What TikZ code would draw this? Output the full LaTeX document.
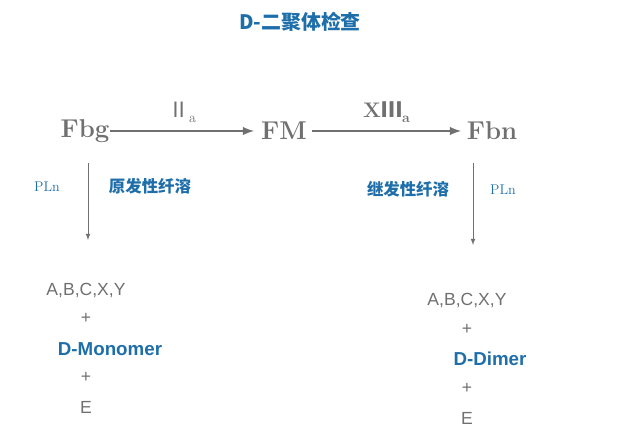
\documentclass[tikz,border=0pt]{standalone}
\usepackage{fontspec}
\setsansfont{Liberation Sans}
\newfontfamily\cjk{Noto Sans CJK SC}
\definecolor{txtgray}{RGB}{112,112,112}
\definecolor{txtblue}{RGB}{30,110,170}
\begin{document}
\begin{tikzpicture}[x=0.03cm,y=-0.03cm]
\tikzstyle{chem}=[font=\fontsize{22}{24}\selectfont\bfseries,text=txtgray,inner sep=1pt]
\tikzstyle{enz}=[font=\fontsize{12}{14}\selectfont,text=txtblue]
\tikzstyle{prod}=[font=\sffamily\fontsize{15}{17}\selectfont,text=txtgray]
\tikzstyle{key}=[font=\sffamily\bfseries\fontsize{16}{18}\selectfont,text=txtblue]
\tikzstyle{arr}=[draw=txtgray,line width=2.2pt,-latex]
\useasboundingbox (0,0) rectangle (628,431);
\node[font=\cjk\bfseries\fontsize{17}{19}\selectfont,text=txtblue] (title) at (300,22) {D-二聚体检查};
\foreach \name/\point/\txt in {
	fbg/{85,131}/Fbg,
	fm/{284,131}/FM,
	fbn/{492,131}/Fbn}
	\node[chem] (\name) at (\point) {\txt};
\coordinate (a1) at (110,131);
\coordinate (a2) at (254,131);
\coordinate (b1) at (312,131);
\coordinate (b2) at (461,131);
\draw[arr] (a1) -- (a2) node[midway,above=3pt,text=txtgray,font=\fontsize{18}{20}\selectfont] {{\cjk Ⅱ}\raisebox{-4pt}{\fontsize{12}{14}\selectfont a}};
\draw[arr] (b1) -- (b2) node[midway,above=3pt,text=txtgray,font=\bfseries\fontsize{18}{20}\selectfont] {X{\cjk Ⅲ}\raisebox{-4pt}{\fontsize{12}{14}\selectfont a}};
\coordinate (l1) at (88,163);
\coordinate (l2) at (88,240);
\coordinate (r1) at (473,163);
\coordinate (r2) at (473,245);
\draw[txtgray,line width=0.8pt,-latex] (l1) -- (l2);
\draw[txtgray,line width=0.8pt,-latex] (r1) -- (r2);
\node[enz] (plnl) at (47,187) {PLn};
\node[enz] (plnr) at (503,190) {PLn};
\node[font=\cjk\bfseries\fontsize{14}{16}\selectfont,text=txtblue] (prim) at (150,186) {原发性纤溶};
\node[font=\cjk\bfseries\fontsize{14}{16}\selectfont,text=txtblue] (sec) at (408,189) {继发性纤溶};
% left products
\node[prod] (abcl) at (86,290) {A,B,C,X,Y};
\node[prod] (p1) at (86,318) {+};
\node[key] (mono) at (110,349) {D-Monomer};
\node[prod] (p2) at (86,377) {+};
\node[prod] (el) at (86,407) {E};
% right products
\node[prod] (abcr) at (467,300) {A,B,C,X,Y};
\node[prod] (p3) at (467,329) {+};
\node[key] (dimer) at (490,359) {D-Dimer};
\node[prod] (p4) at (467,388) {+};
\node[prod] (er) at (467,418) {E};
\end{tikzpicture}
\end{document}
